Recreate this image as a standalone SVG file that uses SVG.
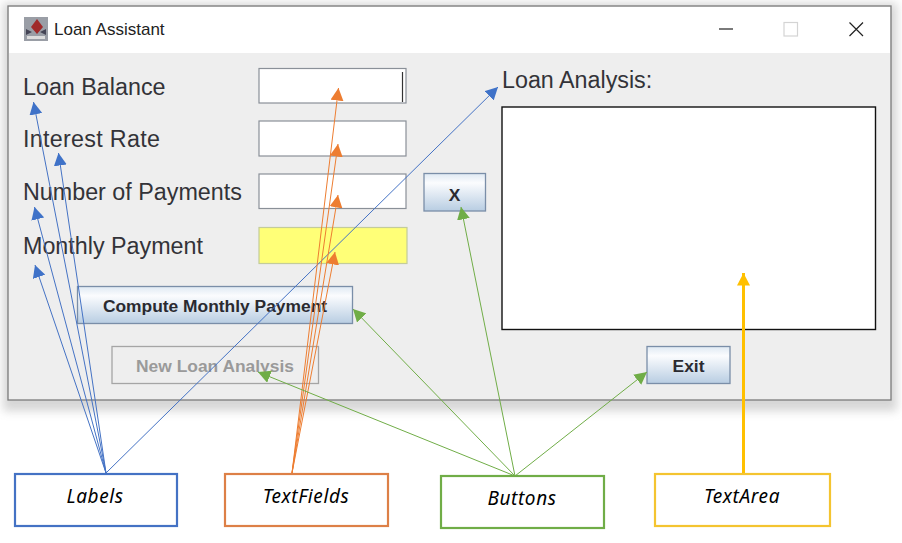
<svg xmlns="http://www.w3.org/2000/svg" width="902" height="543" viewBox="0 0 902 543">
<style>
text{font-family:"Liberation Sans",Arial,sans-serif}
.lbl{font-size:23.300px;fill:#333338}
.btn{font-size:17.400px;font-weight:bold;fill:#2a2a30;text-anchor:middle}
.tf{fill:#fff;stroke:#8a9098;stroke-width:1.2}
.bt{fill:url(#g);stroke:#7a8ea8;stroke-width:1.3}
.cap{font-family:"Noto Sans","Open Sans",sans-serif;font-size:19px;letter-spacing:.6px;font-style:italic;fill:#000;text-anchor:middle}
.box{fill:#fff;stroke-width:2.2}
.c{fill:none}
.b{stroke:#4472c4;stroke-width:1}
.o{stroke:#ed7d31;stroke-width:1}
.gr{stroke:#70ad47;stroke-width:1}
</style>
<defs>
<linearGradient id="g" x1="0" y1="0" x2="0" y2="1"><stop offset="0" stop-color="#dfe9f3"/><stop offset=".25" stop-color="#fbfcfe"/><stop offset="1" stop-color="#b8cde2"/></linearGradient>
<filter id="s" x="-5%" y="-10%" width="110%" height="120%"><feGaussianBlur stdDeviation="5"/></filter>
<marker id="mb" markerUnits="userSpaceOnUse" markerWidth="13" markerHeight="13" refX="12.500" refY="6.500" orient="auto"><path d="M0 0L12.500 6.500L0 13Z" fill="#3f72c8"/></marker>
<marker id="mo" markerUnits="userSpaceOnUse" markerWidth="13" markerHeight="13" refX="12.500" refY="6.500" orient="auto"><path d="M0 0L12.500 6.500L0 13Z" fill="#ed7d31"/></marker>
<marker id="mg" markerUnits="userSpaceOnUse" markerWidth="13" markerHeight="13" refX="12.500" refY="6.500" orient="auto"><path d="M0 0L12.500 6.500L0 13Z" fill="#70ad47"/></marker>
<marker id="my" markerUnits="userSpaceOnUse" markerWidth="13" markerHeight="13" refX="12.500" refY="6.500" orient="auto"><path d="M0 0L12.500 6.500L0 13Z" fill="#ffc000"/></marker>
</defs>
<rect width="902" height="543" fill="#fff"/>
<g id="window">
<rect x="3" y="3" width="894" height="408" fill="#999" opacity=".4" filter="url(#s)"/>
<rect x="8" y="6" width="883" height="394" fill="#eeeeee" stroke="#7b7b7b" stroke-width="1.3"/>
<rect x="9" y="7" width="881" height="46" fill="#fff"/>
<rect x="24" y="17" width="24" height="24" fill="#9a9ea6"/>
<path d="M37 19l6 8-6 7-6-7z" fill="#a02a2a"/>
<path d="M26 29l6 3-6 3zM46 29l-6 3 6 3z" fill="#445"/>
<path d="M27 36h18v3h-18z" fill="#ddd"/>
<text x="54" y="35" font-size="17" fill="#222">Loan Assistant</text>
<path d="M719 29h14" stroke="#222" stroke-width="1.2"/>
<rect x="784" y="22.500" width="13.500" height="13.500" fill="none" stroke="#d4d4d4" stroke-width="1.2"/>
<path d="M849.500 22.500l13.500 13.500M863 22.500l-13.500 13.500" stroke="#222" stroke-width="1.2"/>
</g>
<g id="lblBalance"><text class="lbl" x="23" y="95">Loan Balance</text></g>
<g id="lblInterest"><text class="lbl" x="23" y="147" style="letter-spacing:.3px">Interest Rate</text></g>
<g id="lblPayments"><text class="lbl" x="23" y="200">Number of Payments</text></g>
<g id="lblMonthly"><text class="lbl" x="23" y="254">Monthly Payment</text></g>
<g id="lblAnalysis"><text class="lbl" x="502" y="88">Loan Analysis:</text></g>
<g id="tfBalance"><rect class="tf" x="259" y="68.500" width="147" height="34.500"/><path d="M402.500 72v30" stroke="#333" stroke-width="1.2"/></g>
<g id="tfInterest"><rect class="tf" x="259" y="121" width="147" height="35"/></g>
<g id="tfPayments"><rect class="tf" x="259" y="174" width="147" height="34.500"/></g>
<g id="tfMonthly"><rect x="259" y="227.500" width="148" height="36" fill="#ffff77" stroke="#c4cc9a" stroke-width="1.2"/></g>
<g id="btnX"><rect class="bt" x="424" y="173.500" width="61.500" height="37.500"/><text class="btn" x="454.500" y="201">X</text></g>
<g id="btnCompute"><rect class="bt" x="77.500" y="286.500" width="275" height="37"/><text class="btn" x="215" y="312">Compute Monthly Payment</text></g>
<g id="btnNew"><rect x="112" y="346.500" width="206.500" height="37" fill="none" stroke="#a5a5a5" stroke-width="1.3"/><text class="btn" x="215" y="372" style="fill:#9a9a9a">New Loan Analysis</text></g>
<g id="btnExit"><rect class="bt" x="647" y="346.500" width="83" height="37"/><text class="btn" x="688.500" y="372">Exit</text></g>
<g id="textArea"><rect x="502" y="107" width="373.500" height="222.500" fill="#fff" stroke="#111" stroke-width="1.4"/></g>
<g id="connectors" class="c">
<path class="b" d="M106 473L33.500 102" marker-end="url(#mb)"/>
<path class="b" d="M106 473L58.500 153" marker-end="url(#mb)"/>
<path class="b" d="M106 473L34.500 207" marker-end="url(#mb)"/>
<path class="b" d="M106 473L35 265" marker-end="url(#mb)"/>
<path class="b" d="M106 473L498 87" marker-end="url(#mb)"/>
<path class="o" d="M292 473L338.500 88" marker-end="url(#mo)"/>
<path class="o" d="M292 473L338 144" marker-end="url(#mo)"/>
<path class="o" d="M292 473L338 195" marker-end="url(#mo)"/>
<path class="o" d="M292 473L335 252" marker-end="url(#mo)"/>
<path class="gr" d="M515 476L258 372" marker-end="url(#mg)"/>
<path class="gr" d="M515 476L353 309" marker-end="url(#mg)"/>
<path class="gr" d="M515 476L461 207" marker-end="url(#mg)"/>
<path class="gr" d="M515 476L647 372" marker-end="url(#mg)"/>
<path d="M743.500 473V273" stroke="#ffc000" stroke-width="3" marker-end="url(#my)"/>
</g>
<g id="labels"><rect class="box" x="15" y="474" width="162" height="52" stroke="#4472c4"/><text class="cap" x="95" y="503">Labels</text></g>
<g id="textfields"><rect class="box" x="225" y="474" width="163" height="52" stroke="#dd8047"/><text class="cap" x="306" y="503">TextFields</text></g>
<g id="buttons"><rect class="box" x="441" y="476" width="163" height="52" stroke="#70ad47"/><text class="cap" x="522" y="505">Buttons</text></g>
<g id="textarea-note"><rect class="box" x="655" y="474" width="175" height="52" stroke="#f4c430"/><text class="cap" x="742" y="503">TextArea</text></g>
</svg>
